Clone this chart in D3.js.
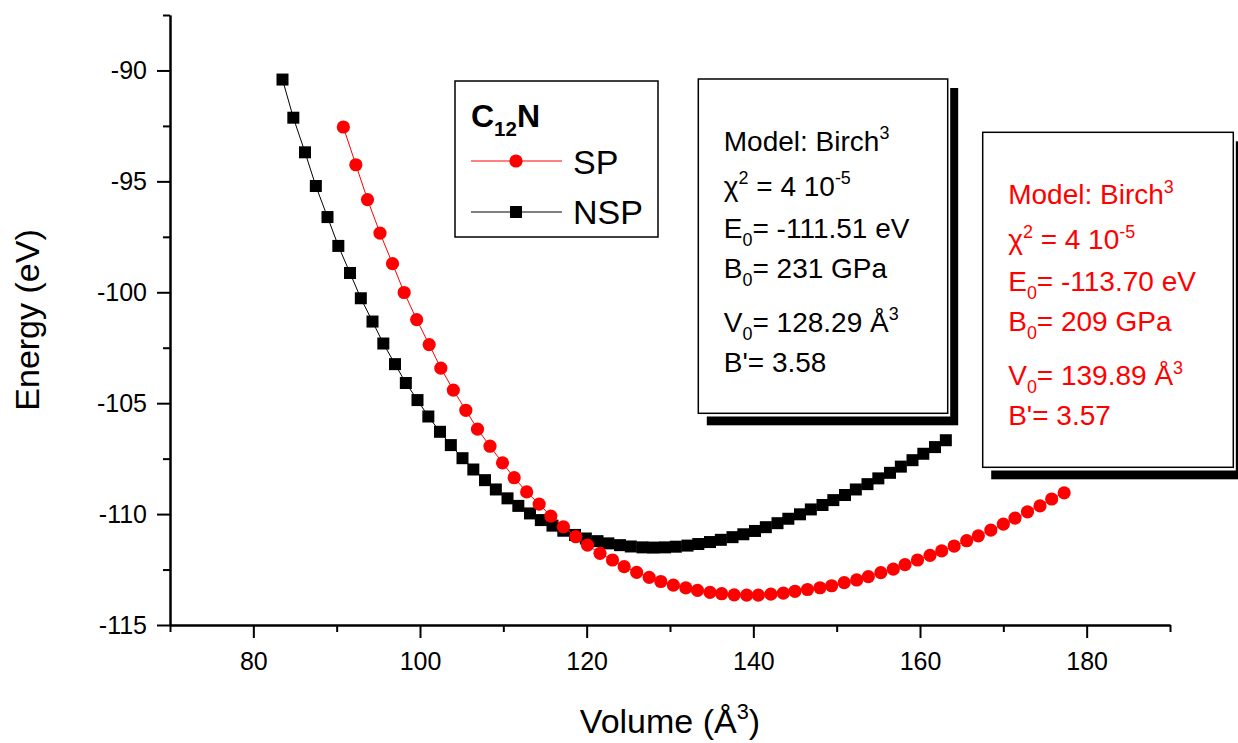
<!DOCTYPE html>
<html>
<head>
<meta charset="utf-8">
<script src="https://cdn.jsdelivr.net/npm/d3@7"></script>
<style>
  body { margin: 0; background: #fff; }
  text { font-family: Arial, "Liberation Sans", sans-serif; white-space: pre; }
</style>
</head>
<body>
<script>
// volumes (Å^3) and energies (eV)
const volNSP = [83.5, 84.8, 86.2, 87.5, 88.9, 90.2, 91.6, 92.9, 94.3, 95.6,
  97.0, 98.3, 99.7, 101.0, 102.4, 103.7, 105.1, 106.4, 107.8, 109.1,
  110.5, 111.8, 113.2, 114.5, 115.9, 117.2, 118.6, 119.9, 121.3, 122.6,
  124.0, 125.3, 126.7, 128.0, 129.4, 130.7, 132.1, 133.4, 134.8, 136.1,
  137.5, 138.8, 140.2, 141.5, 142.9, 144.2, 145.6, 146.9, 148.3, 149.6,
  151.0, 152.3, 153.7, 155.0, 156.4, 157.7, 159.1, 160.4, 161.8, 163.1];
const eNSP = [-90.41, -92.13, -93.69, -95.21, -96.61, -97.91, -99.13, -100.27, -101.32, -102.31,
  -103.24, -104.09, -104.86, -105.60, -106.29, -106.89, -107.48, -107.99, -108.47, -108.89,
  -109.29, -109.63, -109.97, -110.27, -110.52, -110.75, -110.94, -111.10, -111.22, -111.32,
  -111.40, -111.46, -111.50, -111.51, -111.50, -111.47, -111.42, -111.35, -111.26, -111.16,
  -111.04, -110.91, -110.76, -110.59, -110.41, -110.21, -110.01, -109.79, -109.59, -109.37,
  -109.14, -108.89, -108.65, -108.39, -108.14, -107.86, -107.57, -107.28, -106.98, -106.67];

const volSP = [90.8, 92.3, 93.7, 95.2, 96.7, 98.1, 99.6, 101.1, 102.5, 104.0,
  105.5, 106.9, 108.4, 109.9, 111.3, 112.8, 114.3, 115.7, 117.2, 118.7,
  120.1, 121.6, 123.1, 124.5, 126.0, 127.5, 128.9, 130.4, 131.9, 133.3,
  134.8, 136.2, 137.7, 139.2, 140.6, 142.1, 143.6, 145.0, 146.5, 148.0,
  149.4, 150.9, 152.4, 153.8, 155.3, 156.8, 158.2, 159.7, 161.2, 162.6,
  164.1, 165.6, 167.0, 168.5, 170.0, 171.4, 172.9, 174.4, 175.8, 177.3];
const eSP = [-92.55, -94.25, -95.82, -97.33, -98.71, -100.01, -101.23, -102.36, -103.42, -104.41,
  -105.32, -106.17, -106.94, -107.69, -108.36, -109.00, -109.55, -110.09, -110.57, -111.02,
  -111.40, -111.77, -112.07, -112.37, -112.63, -112.85, -113.04, -113.20, -113.33, -113.44,
  -113.53, -113.59, -113.64, -113.65, -113.65, -113.61, -113.56, -113.48, -113.40, -113.32,
  -113.23, -113.09, -112.97, -112.82, -112.64, -112.48, -112.28, -112.07, -111.86, -111.66,
  -111.44, -111.20, -110.98, -110.72, -110.45, -110.18, -109.90, -109.63, -109.32, -109.04];

const xTicks = [80, 100, 120, 140, 160, 180];
const xMinor = [70, 90, 110, 130, 150, 170, 190];
const yTicks = [-115, -110, -105, -100, -95, -90];
const yMinor = [-112.5, -107.5, -102.5, -97.5, -92.5, -87.5];

// Birch fit results: E0, B0, V0, B'
const fitNSP = ["-111.51", "231", "128.29", "3.58"];
const fitSP = ["-113.70", "209", "139.89", "3.57"];
const chi2 = ["4 10", "-5"];

const width = 1238;
const height = 743;

const svg = d3.select("body").append("svg")
  .attr("width", width)
  .attr("height", height);

const x = d3.scaleLinear().domain([70, 190]).range([170, 1170]);
const y = d3.scaleLinear().domain([-115, -87.5]).range([625, 15]);

// helper for text with sub/superscripts
function rich(sel, parts, fs) {
  let shift = 0;
  parts.forEach(([t, mode]) => {
    const target = mode === "sup" ? -0.42 * fs : mode === "sub" ? 0.27 * fs : 0;
    sel.append("tspan")
      .attr("dy", target - shift)
      .attr("font-size", mode ? fs * 0.64 : fs)
      .text(t);
    shift = target;
  });
}

// axes
function styleAxis(g) {
  g.selectAll("path, line").attr("stroke", "#000").attr("stroke-width", 2);
  g.selectAll("text").attr("font-size", 25).attr("fill", "#000")
    .style("font-family", "Arial, 'Liberation Sans', sans-serif");
}

const plain = d => String(d); // keep hyphen minus like the original

svg.append("g").attr("transform", "translate(0,625)")
  .call(d3.axisBottom(x).tickValues(xMinor).tickSize(7).tickSizeOuter(0).tickFormat(""))
  .call(styleAxis);
svg.append("g").attr("transform", "translate(0,625)")
  .call(d3.axisBottom(x).tickValues(xTicks).tickSize(13).tickSizeOuter(0).tickPadding(14).tickFormat(plain))
  .call(styleAxis);

svg.append("g").attr("transform", "translate(170,0)")
  .call(d3.axisLeft(y).tickValues(yMinor).tickSize(7).tickSizeOuter(0).tickFormat(""))
  .call(styleAxis);
svg.append("g").attr("transform", "translate(170,0)")
  .call(d3.axisLeft(y).tickValues(yTicks).tickSize(13).tickSizeOuter(0).tickPadding(10).tickFormat(plain))
  .call(styleAxis);

// axis titles
svg.append("text")
  .attr("transform", "translate(39,320) rotate(-90)")
  .attr("text-anchor", "middle")
  .attr("font-size", 34)
  .text("Energy (eV)");

const xt = svg.append("text")
  .attr("x", 670).attr("y", 733)
  .attr("text-anchor", "middle");
rich(xt, [["Volume (Å"], ["3", "sup"], [")"]], 34);

// series
const line = d3.line().x(d => x(d[0])).y(d => y(d[1]));
const nsp = d3.zip(volNSP, eNSP);
const sp = d3.zip(volSP, eSP);

svg.append("path").datum(nsp)
  .attr("d", line).attr("fill", "none")
  .attr("stroke", "#000").attr("stroke-width", 1);
svg.append("g").selectAll("rect").data(nsp).join("rect")
  .attr("x", d => x(d[0]) - 6).attr("y", d => y(d[1]) - 6)
  .attr("width", 12).attr("height", 12)
  .attr("fill", "#000");

svg.append("path").datum(sp)
  .attr("d", line).attr("fill", "none")
  .attr("stroke", "#ff0000").attr("stroke-width", 1);
svg.append("g").selectAll("circle").data(sp).join("circle")
  .attr("cx", d => x(d[0])).attr("cy", d => y(d[1]))
  .attr("r", 6.6)
  .attr("fill", "#ff0000");

// legend
svg.append("rect")
  .attr("x", 455).attr("y", 81).attr("width", 203).attr("height", 156)
  .attr("fill", "#fff").attr("stroke", "#000").attr("stroke-width", 1.5);
const ttl = svg.append("text").attr("x", 471).attr("y", 127).attr("font-weight", "bold");
rich(ttl, [["C"], ["12", "sub"], ["N"]], 32);

svg.append("line").attr("x1", 471).attr("x2", 562).attr("y1", 161).attr("y2", 161)
  .attr("stroke", "#ff0000").attr("stroke-width", 1);
svg.append("circle").attr("cx", 516).attr("cy", 161).attr("r", 6.6).attr("fill", "#ff0000");
svg.append("text").attr("x", 573).attr("y", 174).attr("font-size", 34).text("SP");

svg.append("line").attr("x1", 471).attr("x2", 562).attr("y1", 212).attr("y2", 212)
  .attr("stroke", "#000").attr("stroke-width", 1);
svg.append("rect").attr("x", 510).attr("y", 206).attr("width", 12).attr("height", 12).attr("fill", "#000");
svg.append("text").attr("x", 573).attr("y", 224).attr("font-size", 34).text("NSP");

// fit result boxes
function fitBox(bx, by, bw, bh, fit, color) {
  svg.append("rect").attr("x", bx + 8.5).attr("y", by + 9)
    .attr("width", bw + 2).attr("height", bh + 3).attr("fill", "#000");
  svg.append("rect").attr("x", bx).attr("y", by)
    .attr("width", bw + 2.5).attr("height", bh + 3.2).attr("fill", "#fff");
  svg.append("rect").attr("x", bx).attr("y", by)
    .attr("width", bw).attr("height", bh)
    .attr("fill", "#fff").attr("stroke", "#000").attr("stroke-width", 1.5);

  const lines = [
    [["Model: Birch"], ["3", "sup"]],
    [["χ"], ["2", "sup"], [" = " + chi2[0]], [chi2[1], "sup"]],
    [["E"], ["0", "sub"], ["= " + fit[0] + " eV"]],
    [["B"], ["0", "sub"], ["= " + fit[1] + " GPa"]],
    [["V"], ["0", "sub"], ["= " + fit[2] + " Å"], ["3", "sup"]],
    [["B'= " + fit[3]]]
  ];
  const offs = [72, 117, 159, 199, 253, 293];
  lines.forEach((parts, i) => {
    const t = svg.append("text")
      .attr("x", bx + 25.5).attr("y", by + offs[i])
      .attr("fill", color);
    rich(t, parts, 28);
  });
}

fitBox(698.3, 79, 249.4, 334.3, fitNSP, "#000");
fitBox(982.7, 132.3, 250.6, 335, fitSP, "#ff0000");
</script>
</body>
</html>
